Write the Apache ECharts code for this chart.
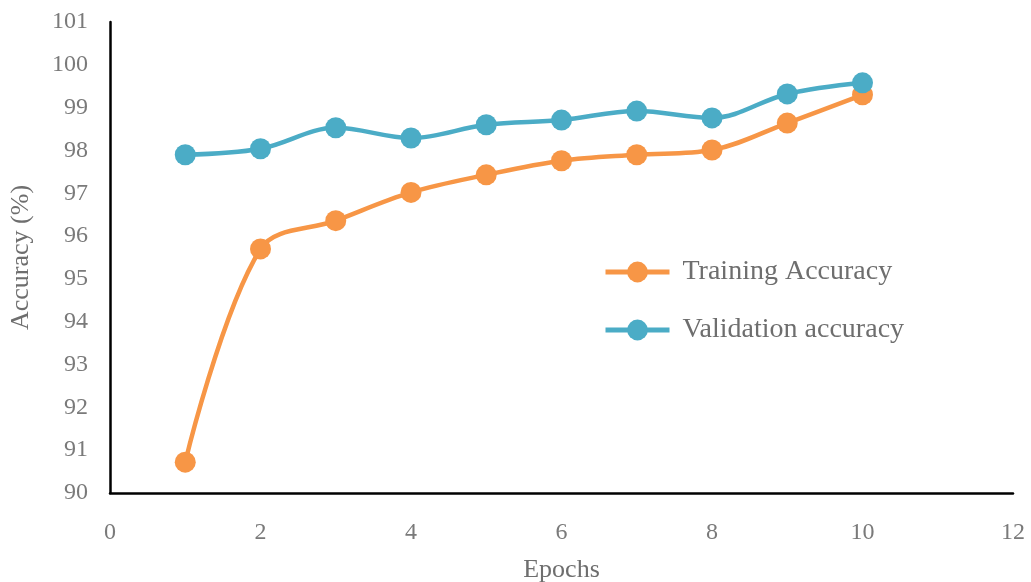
<!DOCTYPE html>
<html>
<head>
<meta charset="utf-8">
<script src="https://cdn.jsdelivr.net/npm/echarts@6/dist/echarts.min.js"></script>
<style>html,body{margin:0;padding:0;background:#fff;}#c{width:1031px;height:582px;}</style>
</head>
<body>
<div id="c"></div>
<script>
const epochs = [1, 2, 3, 4, 5, 6, 7, 8, 9, 10];
const trainingAccuracy = [90.72, 95.70, 96.36, 97.02, 97.43, 97.76, 97.90, 98.01, 98.64, 99.30];
const validationAccuracy = [97.90, 98.04, 98.53, 98.29, 98.60, 98.71, 98.92, 98.76, 99.32, 99.58];
const seriesNames = ['Training Accuracy', 'Validation accuracy'];

const FONT = '"Liberation Serif", "Times New Roman", serif';
const chart = echarts.init(document.getElementById('c'), null, {renderer: 'canvas'});
const pairs = a => epochs.map((e, i) => [e, a[i]]);
chart.setOption({
  animation: false,
  backgroundColor: '#ffffff',
  grid: {left: 110, right: 18, top: 22, bottom: 89, containLabel: false, outerBoundsMode: 'none'},
  legend: {
    orient: 'vertical', left: 598, top: 253, itemGap: 30,
    itemWidth: 64, itemHeight: 26,
    lineStyle: {width: 5},
    textStyle: {fontFamily: FONT, fontSize: 28, color: '#6e6e6e', padding: [0, 0, 0, 8]},
    data: seriesNames
  },
  xAxis: {
    type: 'value', min: 0, max: 12, interval: 2,
    name: 'Epochs', nameLocation: 'middle', nameGap: 64,
    nameTextStyle: {fontFamily: FONT, fontSize: 26, color: '#6e6e6e'},
    axisLine: {show: true, onZero: false, lineStyle: {color: '#000', width: 2.5}},
    axisTick: {show: false},
    splitLine: {show: false},
    axisLabel: {fontFamily: FONT, fontSize: 24, color: '#7a7a7a', margin: 28}
  },
  yAxis: {
    type: 'value', min: 90, max: 101, interval: 1,
    name: 'Accuracy (%)', nameLocation: 'middle', nameGap: 76, nameRotate: 90,
    nameTextStyle: {fontFamily: FONT, fontSize: 26, color: '#6e6e6e'},
    axisLine: {show: true, lineStyle: {color: '#000', width: 2.5}},
    axisTick: {show: false},
    splitLine: {show: false},
    axisLabel: {fontFamily: FONT, fontSize: 24, color: '#7a7a7a', margin: 22}
  },
  series: [
    {
      name: seriesNames[0], type: 'line', data: pairs(trainingAccuracy), smooth: 0.35,
      symbol: 'circle', symbolSize: 21,
      itemStyle: {color: '#F79646'}, lineStyle: {color: '#F79646', width: 4.5}
    },
    {
      name: seriesNames[1], type: 'line', data: pairs(validationAccuracy), smooth: 0.35,
      symbol: 'circle', symbolSize: 21,
      itemStyle: {color: '#4BACC6'}, lineStyle: {color: '#4BACC6', width: 4.5}
    }
  ]
});
</script>
</body>
</html>
